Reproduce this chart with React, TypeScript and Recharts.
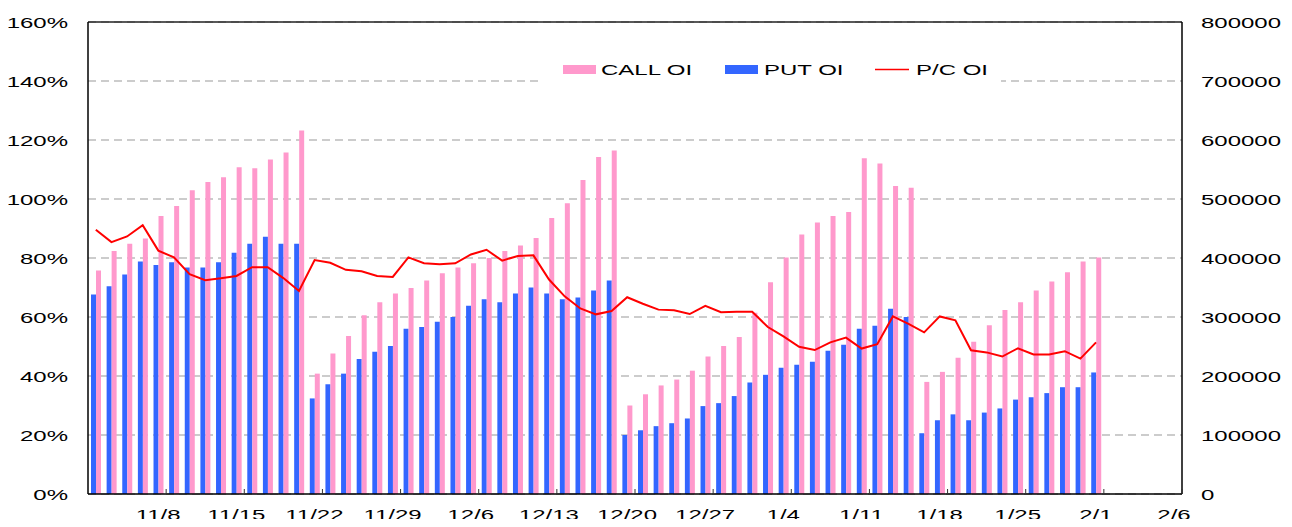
import {
  Bar,
  CartesianGrid,
  ComposedChart,
  Legend,
  Line,
  ReferenceLine,
  XAxis,
  YAxis,
} from "recharts";

const FONT = '"Liberation Sans", Arial, sans-serif';
const STRETCH = 1.6;
const CALL_COLOR = "#ff99cc";
const PUT_COLOR = "#3366ff";
const PC_COLOR = "#ff0000";

// week tick positions (in trading-day slots) and their labels
const WEEK_TICKS = [5, 10, 15, 20, 25, 30, 35, 40, 45, 50, 55, 60, 65, 70];
const WEEK_LABELS = [
  "11/8", "11/15", "11/22", "11/29", "12/6", "12/13", "12/20",
  "12/27", "1/4", "1/11", "1/18", "1/25", "2/1", "2/6",
];

const PUT_OI = [
  338000, 352000, 372000, 394000, 388000, 393000, 384000, 384000, 393000, 409000,
  424000, 436000, 424000, 424000, 162000, 186000, 204000, 229000, 241000, 251000,
  280000, 283000, 292000, 300000, 319000, 330000, 325000, 340000, 350000, 340000,
  330000, 333000, 345000, 362000, 100000, 108000, 115000, 120000, 128000, 149000,
  154000, 166000, 189000, 202000, 214000, 219000, 224000, 243000, 253000, 280000,
  285000, 314000, 300000, 103000, 125000, 135000, 125000, 138000, 145000, 160000,
  164000, 171000, 181000, 181000, 206000,
];

const CALL_OI = [
  379000, 412000, 424000, 433000, 471000, 488000, 515000, 529000, 537000, 554000,
  552000, 567000, 579000, 616000, 204000, 238000, 268000, 303000, 325000, 340000,
  349000, 362000, 374000, 384000, 391000, 400000, 412000, 421000, 434000, 468000,
  493000, 532000, 571000, 582000, 150000, 169000, 184000, 194000, 209000, 233000,
  251000, 266000, 307000, 359000, 401000, 440000, 460000, 471000, 478000, 569000,
  560000, 522000, 519000, 190000, 207000, 231000, 258000, 286000, 312000, 325000,
  345000, 360000, 376000, 394000, 401000,
];

const PC_OI = [
  89.6, 85.4, 87.3, 91.1, 82.5, 80.2, 74.5, 72.5, 73.1, 73.9,
  76.9, 76.9, 73.2, 68.8, 79.3, 78.4, 76.0, 75.5, 73.9, 73.6,
  80.2, 78.2, 77.9, 78.2, 81.2, 82.8, 79.1, 80.7, 80.9, 72.7,
  67.0, 62.9, 60.9, 62.0, 66.7, 64.5, 62.5, 62.3, 61.0, 63.8,
  61.6, 61.8, 61.8, 56.6, 53.4, 49.9, 48.8, 51.4, 53.0, 49.3,
  50.8, 60.2, 57.7, 54.8, 60.2, 58.9, 48.7, 48.0, 46.6, 49.4,
  47.3, 47.3, 48.4, 45.9, 51.4,
];

const data = PUT_OI.map((put, i) => ({
  x: i + 0.5,
  put,
  call: CALL_OI[i],
  pc: PC_OI[i],
}));

// the source text is drawn horizontally stretched
const WideText = ({ x, y, anchor, children }: any) => (
  <text
    transform={`translate(${x},${y}) scale(${STRETCH},1)`}
    textAnchor={anchor}
    fontFamily={FONT}
    fontSize={15}
    fill="#000"
  >
    {children}
  </text>
);

const BottomTick = ({ x, y, payload }: any) => (
  <g>
    <line x1={x} x2={x} y1={y} y2={y - 5} stroke="#333" strokeWidth={1} />
    <WideText x={x - 8} y={y + 26} anchor="middle">
      {WEEK_LABELS[WEEK_TICKS.indexOf(payload.value)]}
    </WideText>
  </g>
);

const LeftTick = ({ x, y, payload }: any) => (
  <WideText x={x - 20} y={y + 6} anchor="end">
    {`${payload.value}%`}
  </WideText>
);

const RightTick = ({ x, y, payload }: any) => (
  <WideText x={x + 19} y={y + 6} anchor="start">
    {String(payload.value)}
  </WideText>
);

const LegendBox = () => (
  <svg width={460} height={30} style={{ display: "block" }}>
    <rect x={0} y={0} width={460} height={30} fill="#fff" />
    <rect x={22} y={10} width={33} height={9} fill={CALL_COLOR} />
    <WideText x={60} y={20} anchor="start">CALL OI</WideText>
    <rect x={184} y={10} width={33} height={9} fill={PUT_COLOR} />
    <WideText x={223} y={20} anchor="start">PUT OI</WideText>
    <line x1={334} x2={368} y1={14.5} y2={14.5} stroke={PC_COLOR} strokeWidth={1.5} />
    <WideText x={375} y={20} anchor="start">P/C OI</WideText>
  </svg>
);

const App = () => (
  <div style={{ margin: -8, width: 1292, height: 527 }}>
    <ComposedChart
      width={1292}
      height={527}
      data={data}
      margin={{ top: 22, right: 0, bottom: 0, left: 0 }}
      barGap={0}
    >
      <CartesianGrid
        vertical={false}
        yAxisId="left"
        stroke="#999"
        strokeDasharray="8 5"
      />
      <XAxis
        dataKey="x"
        type="number"
        domain={[0, 70]}
        ticks={WEEK_TICKS}
        interval={0}
        height={33}
        tickSize={0}
        tickMargin={0}
        tickLine={false}
        tick={<BottomTick />}
        axisLine={{ stroke: "#000", strokeWidth: 1.5 }}
      />
      <YAxis
        yAxisId="left"
        domain={[0, 160]}
        ticks={[0, 20, 40, 60, 80, 100, 120, 140, 160]}
        width={88}
        tickSize={0}
        tickMargin={0}
        tickLine={false}
        tick={<LeftTick />}
        axisLine={{ stroke: "#000", strokeWidth: 1.5 }}
      />
      <YAxis
        yAxisId="right"
        orientation="right"
        domain={[0, 800000]}
        ticks={[0, 100000, 200000, 300000, 400000, 500000, 600000, 700000, 800000]}
        width={110}
        tickSize={0}
        tickMargin={0}
        tickLine={false}
        tick={<RightTick />}
        axisLine={{ stroke: "#000", strokeWidth: 1.5 }}
      />
      <ReferenceLine yAxisId="left" y={160} stroke="#222" strokeWidth={1.5} />
      <Bar yAxisId="right" dataKey="put" fill={PUT_COLOR} barSize={5} isAnimationActive={false} />
      <Bar yAxisId="right" dataKey="call" fill={CALL_COLOR} barSize={5} isAnimationActive={false} />
      <Line
        yAxisId="left"
        dataKey="pc"
        stroke={PC_COLOR}
        strokeWidth={2}
        dot={false}
        isAnimationActive={false}
      />
      <Legend
        layout="horizontal"
        verticalAlign="middle"
        align="center"
        content={() => <LegendBox />}
        wrapperStyle={{ position: "absolute", left: 541, top: 55, width: 460, height: 30 }}
      />
    </ComposedChart>
  </div>
);

export default App;
